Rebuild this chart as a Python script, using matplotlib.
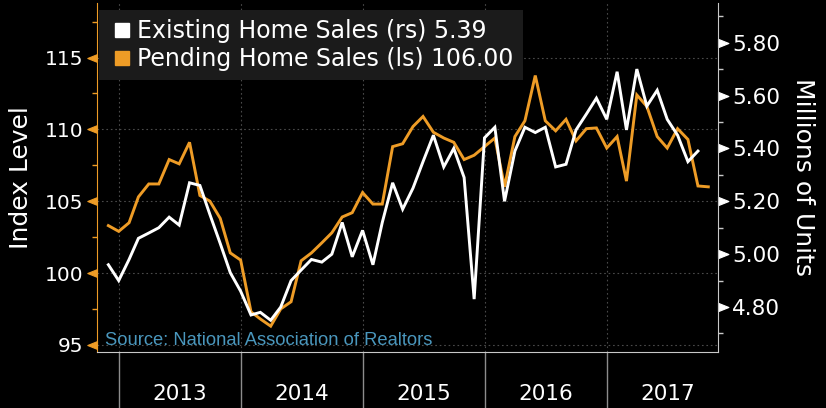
import pandas as pd
import matplotlib
matplotlib.use("Agg")
import matplotlib.pyplot as plt
import matplotlib.dates as mdates
from matplotlib.path import Path
from matplotlib.lines import Line2D
from matplotlib.ticker import MultipleLocator, NullFormatter, FormatStrFormatter

# -------------------------------
# Data
# -------------------------------
# Pending Home Sales index (left axis), plotted at month end, Nov 2012 .. Oct 2017
pending_dates = pd.date_range("2012-11-30", periods=60, freq="ME")
pending = [103.3, 102.9, 103.5, 105.3, 106.2, 106.2, 107.9, 107.6, 109.1, 105.4,
           105.0, 103.8, 101.4, 100.9, 97.3, 96.8, 96.3, 97.5, 98.0, 100.85,
           101.4, 102.1, 102.8, 103.9, 104.2, 105.6, 104.8, 104.8, 108.8, 109.0,
           110.2, 110.9, 109.8, 109.4, 109.1, 107.9, 108.2, 108.8, 109.4, 106.0,
           109.5, 110.6, 113.75, 110.6, 109.9, 110.7, 109.2, 110.05, 110.1, 108.7,
           109.5, 106.4, 112.4, 111.6, 109.5, 108.7, 110.05, 109.3, 106.06, 106.0]

# Existing Home Sales, millions of units (right axis), Nov 2012 .. Sep 2017
existing_dates = pd.date_range("2012-11-30", periods=59, freq="ME")
existing = [4.96, 4.90, 4.98, 5.06, 5.08, 5.10, 5.14, 5.11, 5.27, 5.26,
            5.15, 5.04, 4.93, 4.86, 4.77, 4.78, 4.75, 4.80, 4.90, 4.94,
            4.98, 4.97, 5.00, 5.12, 4.99, 5.09, 4.96, 5.12, 5.27, 5.17,
            5.25, 5.35, 5.45, 5.33, 5.40, 5.29, 4.83, 5.44, 5.48, 5.20,
            5.39, 5.48, 5.46, 5.48, 5.33, 5.34, 5.47, 5.53, 5.59, 5.51,
            5.69, 5.47, 5.70, 5.56, 5.62, 5.51, 5.45, 5.35, 5.39]

left_ticks = [95, 100, 105, 110, 115]
right_ticks = [4.80, 5.00, 5.20, 5.40, 5.60, 5.80]
year_starts = pd.to_datetime(["2013-01-01", "2014-01-01", "2015-01-01", "2016-01-01", "2017-01-01"])
year_mids = pd.to_datetime(["2013-07-02", "2014-07-02", "2015-07-02", "2016-07-02", "2017-07-02"])

legend_labels = ["Existing Home Sales (rs) 5.39", "Pending Home Sales (ls) 106.00"]

# -------------------------------
# Style
# -------------------------------
ORANGE = "#ee9c26"
WHITE = "#ffffff"
FRAME = "#c8c8c8"
GRID = "#4a4a4a"
BG = "#000000"

plt.rcParams["font.family"] = ["DejaVu Sans"]

fig = plt.figure(figsize=(8.26, 4.08), dpi=100, facecolor=BG)
ax = fig.add_axes([97 / 826, 56 / 408, 621 / 826, 349 / 408])
ax.set_facecolor(BG)
ax2 = ax.twinx()

# lines
ax.plot(pending_dates, pending, color=ORANGE, lw=2.1, solid_joinstyle="miter")
ax2.plot(existing_dates, existing, color=WHITE, lw=2.1, solid_joinstyle="miter")

# limits
ax.set_ylim(94.5, 118.8)
ax2.set_ylim(4.63, 5.95)
ax.set_xlim(pd.Timestamp("2012-10-27"), pd.Timestamp("2017-11-29"))

# spines
for s in ["top", "right"]:
    ax.spines[s].set_visible(False)
for s in ["top", "left", "bottom"]:
    ax2.spines[s].set_visible(False)
ax.spines["left"].set_color(ORANGE)
ax.spines["bottom"].set_color(FRAME)
ax2.spines["right"].set_color(FRAME)

# grid
ax.set_yticks(left_ticks)
ax.set_xticks(year_starts)
ax.grid(True, which="major", color=GRID, linestyle=(0, (1.5, 2.5)), linewidth=0.8)
ax.set_axisbelow(True)

# x axis: year separators + centered labels
ax.xaxis.set_major_formatter(NullFormatter())
ax.set_xticks(year_mids, minor=True)
ax.xaxis.set_minor_formatter(mdates.DateFormatter("%Y"))
ax.tick_params(axis="x", which="major", length=40, width=1, color="#8c8c8c")
ax.tick_params(axis="x", which="minor", length=0, pad=23, labelsize=15.5, labelcolor=WHITE)

# left axis ticks
ax.yaxis.set_minor_locator(MultipleLocator(2.5))
ax.tick_params(axis="y", which="major", length=14, pad=-4, labelsize=14.5,
               labelcolor=WHITE, color=ORANGE)
ax.tick_params(axis="y", which="minor", length=3.5, width=1, color=ORANGE)

# right axis ticks
ax2.set_yticks(right_ticks)
ax2.yaxis.set_major_formatter(FormatStrFormatter("%.2f"))
ax2.yaxis.set_minor_locator(MultipleLocator(0.1))
ax2.tick_params(axis="y", which="major", length=15, pad=-5, labelsize=15.5,
                labelcolor=WHITE, color=WHITE)
ax2.tick_params(axis="y", which="minor", length=3.5, width=1, color=FRAME)

# triangle tick markers
tri_left = Path([(0, 0.4), (-1, 0), (0, -0.4), (0, 0.4)],
                [Path.MOVETO, Path.LINETO, Path.LINETO, Path.CLOSEPOLY])
tri_right = Path([(0, 0.4), (1, 0), (0, -0.4), (0, 0.4)],
                 [Path.MOVETO, Path.LINETO, Path.LINETO, Path.CLOSEPOLY])
for t in ax.yaxis.get_major_ticks():
    t.tick1line.set_marker(tri_left)
    t.tick1line.set_markerfacecolor(ORANGE)
    t.tick1line.set_markeredgecolor(ORANGE)
for t in ax2.yaxis.get_major_ticks():
    t.tick2line.set_marker(tri_right)
    t.tick2line.set_markerfacecolor(WHITE)
    t.tick2line.set_markeredgecolor(WHITE)

# axis titles
ax.set_ylabel("Index Level", color=WHITE, fontsize=18, labelpad=8)
ax2.set_ylabel("Millions of Units", color=WHITE, fontsize=18, rotation=270, labelpad=25)

# source note
ax.text(0.013, 0.008, "Source: National Association of Realtors", transform=ax.transAxes,
        color="#4a97bd", fontsize=13.2, family=["Liberation Sans", "DejaVu Sans"],
        ha="left", va="bottom")

# legend
handles = [Line2D([], [], marker="s", linestyle="none", color=WHITE, markersize=9.5),
           Line2D([], [], marker="s", linestyle="none", color=ORANGE, markersize=9.5)]
leg = ax2.legend(handles, legend_labels, loc="upper left", bbox_to_anchor=(0.004, 0.98),
                 borderaxespad=0, frameon=True, facecolor="#1b1b1b", edgecolor="none",
                 fancybox=False, framealpha=1, fontsize=17, labelcolor=WHITE,
                 handlelength=1.1, handletextpad=0.1, labelspacing=0.15, borderpad=0.4)

fig.savefig("out.png", dpi=100, facecolor=BG)
